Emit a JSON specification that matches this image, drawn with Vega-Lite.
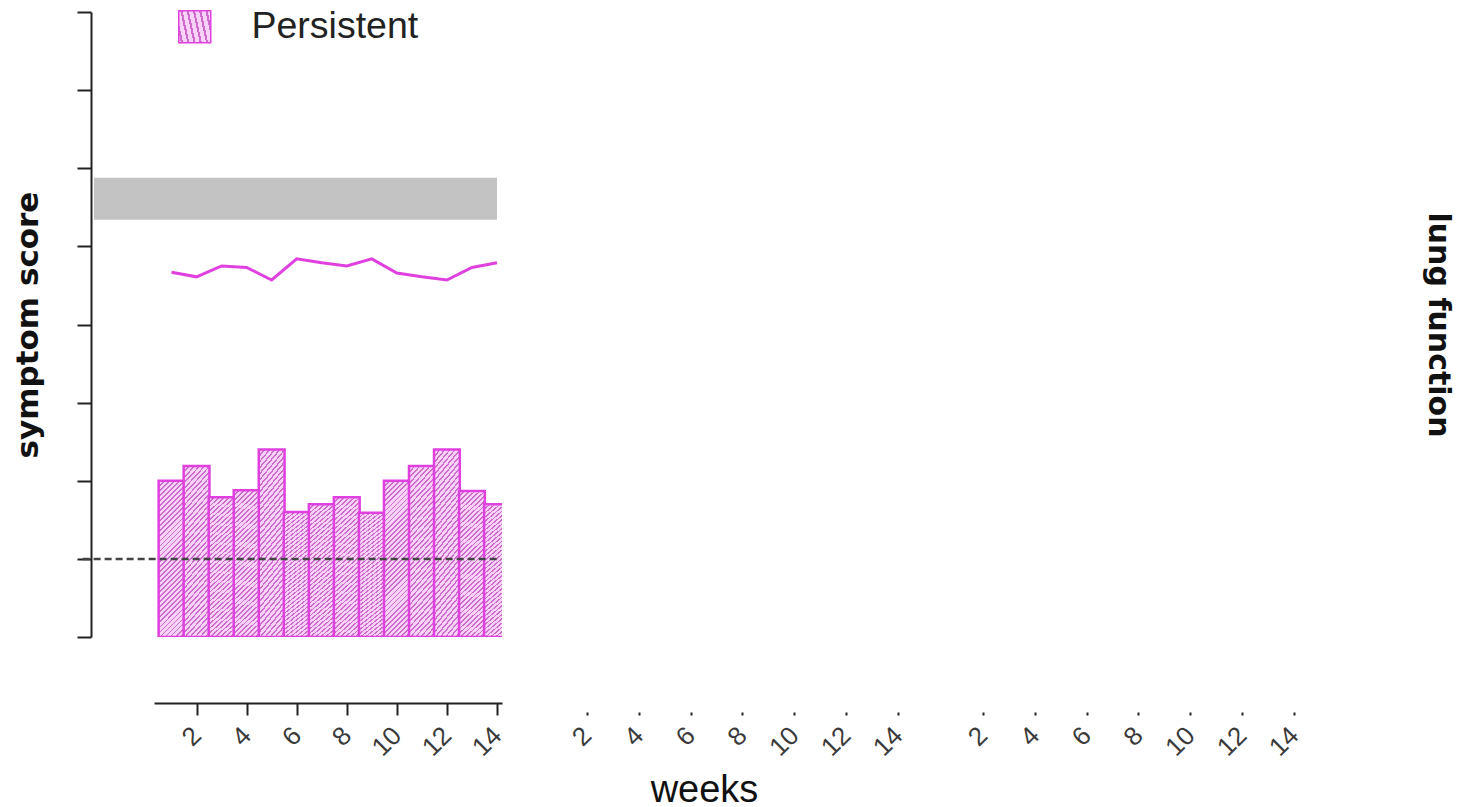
{
  "$schema": "https://vega.github.io/schema/vega-lite/v6.json",
  "padding": {"left": 12, "top": 8, "right": 20, "bottom": 0},
  "bounds": "flush",
  "spacing": 46,
  "background": "white",
  "config": {"view": {"stroke": null}, "axis": {"grid": false}},
  "datasets": {
    "weekly": [
      {"week": 1, "symptom": 1.0, "lung": 3.67},
      {"week": 2, "symptom": 1.19, "lung": 3.61},
      {"week": 3, "symptom": 0.79, "lung": 3.75},
      {"week": 4, "symptom": 0.88, "lung": 3.73},
      {"week": 5, "symptom": 1.4, "lung": 3.57},
      {"week": 6, "symptom": 0.6, "lung": 3.84},
      {"week": 7, "symptom": 0.7, "lung": 3.79},
      {"week": 8, "symptom": 0.79, "lung": 3.75},
      {"week": 9, "symptom": 0.59, "lung": 3.84},
      {"week": 10, "symptom": 1.0, "lung": 3.66},
      {"week": 11, "symptom": 1.19, "lung": 3.61},
      {"week": 12, "symptom": 1.4, "lung": 3.57},
      {"week": 13, "symptom": 0.87, "lung": 3.73},
      {"week": 14, "symptom": 0.7, "lung": 3.79}
    ],
    "band": [{"from": -2.1, "to": 14, "lo": 4.34, "hi": 4.88}],
    "baseline": [{"from": -2.55, "to": 14, "level": 0}]
  },
  "hconcat": [
    {
      "width": 348,
      "height": 625,
      "layer": [
        {
          "data": {"name": "band"},
          "mark": {"type": "rect", "color": "#c3c3c3"},
          "encoding": {
            "x": {"field": "from", "type": "quantitative", "scale": {"domain": [0.5, 14], "nice": false, "zero": false}},
            "x2": {"field": "to"},
            "y": {"field": "lo", "type": "quantitative", "scale": {"domain": [-1, 7], "nice": false, "zero": false}},
            "y2": {"field": "hi"}
          }
        },
        {
          "data": {"name": "weekly"},
          "mark": {
            "type": "bar",
            "width": 25.8,
            "clip": true,
            "strokeWidth": 2.5,
            "fill": {
              "gradient": "linear", "x1": 0, "y1": 0, "x2": 0.1875, "y2": 1.134,
              "stops": [
                {"offset": 0, "color": "#cf6acf"}, {"offset": 0.0097, "color": "#cf6acf"}, {"offset": 0.0097, "color": "#f8d2f8"}, {"offset": 0.0278, "color": "#f8d2f8"},
                {"offset": 0.0278, "color": "#cf6acf"}, {"offset": 0.0375, "color": "#cf6acf"}, {"offset": 0.0375, "color": "#f8d2f8"}, {"offset": 0.0556, "color": "#f8d2f8"},
                {"offset": 0.0556, "color": "#cf6acf"}, {"offset": 0.0653, "color": "#cf6acf"}, {"offset": 0.0653, "color": "#f8d2f8"}, {"offset": 0.0833, "color": "#f8d2f8"},
                {"offset": 0.0833, "color": "#cf6acf"}, {"offset": 0.0931, "color": "#cf6acf"}, {"offset": 0.0931, "color": "#f8d2f8"}, {"offset": 0.1111, "color": "#f8d2f8"},
                {"offset": 0.1111, "color": "#cf6acf"}, {"offset": 0.1208, "color": "#cf6acf"}, {"offset": 0.1208, "color": "#f8d2f8"}, {"offset": 0.1389, "color": "#f8d2f8"},
                {"offset": 0.1389, "color": "#cf6acf"}, {"offset": 0.1486, "color": "#cf6acf"}, {"offset": 0.1486, "color": "#f8d2f8"}, {"offset": 0.1667, "color": "#f8d2f8"},
                {"offset": 0.1667, "color": "#cf6acf"}, {"offset": 0.1764, "color": "#cf6acf"}, {"offset": 0.1764, "color": "#f8d2f8"}, {"offset": 0.1944, "color": "#f8d2f8"},
                {"offset": 0.1944, "color": "#cf6acf"}, {"offset": 0.2042, "color": "#cf6acf"}, {"offset": 0.2042, "color": "#f8d2f8"}, {"offset": 0.2222, "color": "#f8d2f8"},
                {"offset": 0.2222, "color": "#cf6acf"}, {"offset": 0.2319, "color": "#cf6acf"}, {"offset": 0.2319, "color": "#f8d2f8"}, {"offset": 0.25, "color": "#f8d2f8"},
                {"offset": 0.25, "color": "#cf6acf"}, {"offset": 0.2597, "color": "#cf6acf"}, {"offset": 0.2597, "color": "#f8d2f8"}, {"offset": 0.2778, "color": "#f8d2f8"},
                {"offset": 0.2778, "color": "#cf6acf"}, {"offset": 0.2875, "color": "#cf6acf"}, {"offset": 0.2875, "color": "#f8d2f8"}, {"offset": 0.3056, "color": "#f8d2f8"},
                {"offset": 0.3056, "color": "#cf6acf"}, {"offset": 0.3153, "color": "#cf6acf"}, {"offset": 0.3153, "color": "#f8d2f8"}, {"offset": 0.3333, "color": "#f8d2f8"},
                {"offset": 0.3333, "color": "#cf6acf"}, {"offset": 0.3431, "color": "#cf6acf"}, {"offset": 0.3431, "color": "#f8d2f8"}, {"offset": 0.3611, "color": "#f8d2f8"},
                {"offset": 0.3611, "color": "#cf6acf"}, {"offset": 0.3708, "color": "#cf6acf"}, {"offset": 0.3708, "color": "#f8d2f8"}, {"offset": 0.3889, "color": "#f8d2f8"},
                {"offset": 0.3889, "color": "#cf6acf"}, {"offset": 0.3986, "color": "#cf6acf"}, {"offset": 0.3986, "color": "#f8d2f8"}, {"offset": 0.4167, "color": "#f8d2f8"},
                {"offset": 0.4167, "color": "#cf6acf"}, {"offset": 0.4264, "color": "#cf6acf"}, {"offset": 0.4264, "color": "#f8d2f8"}, {"offset": 0.4444, "color": "#f8d2f8"},
                {"offset": 0.4444, "color": "#cf6acf"}, {"offset": 0.4542, "color": "#cf6acf"}, {"offset": 0.4542, "color": "#f8d2f8"}, {"offset": 0.4722, "color": "#f8d2f8"},
                {"offset": 0.4722, "color": "#cf6acf"}, {"offset": 0.4819, "color": "#cf6acf"}, {"offset": 0.4819, "color": "#f8d2f8"}, {"offset": 0.5, "color": "#f8d2f8"},
                {"offset": 0.5, "color": "#cf6acf"}, {"offset": 0.5097, "color": "#cf6acf"}, {"offset": 0.5097, "color": "#f8d2f8"}, {"offset": 0.5278, "color": "#f8d2f8"},
                {"offset": 0.5278, "color": "#cf6acf"}, {"offset": 0.5375, "color": "#cf6acf"}, {"offset": 0.5375, "color": "#f8d2f8"}, {"offset": 0.5556, "color": "#f8d2f8"},
                {"offset": 0.5556, "color": "#cf6acf"}, {"offset": 0.5653, "color": "#cf6acf"}, {"offset": 0.5653, "color": "#f8d2f8"}, {"offset": 0.5833, "color": "#f8d2f8"},
                {"offset": 0.5833, "color": "#cf6acf"}, {"offset": 0.5931, "color": "#cf6acf"}, {"offset": 0.5931, "color": "#f8d2f8"}, {"offset": 0.6111, "color": "#f8d2f8"},
                {"offset": 0.6111, "color": "#cf6acf"}, {"offset": 0.6208, "color": "#cf6acf"}, {"offset": 0.6208, "color": "#f8d2f8"}, {"offset": 0.6389, "color": "#f8d2f8"},
                {"offset": 0.6389, "color": "#cf6acf"}, {"offset": 0.6486, "color": "#cf6acf"}, {"offset": 0.6486, "color": "#f8d2f8"}, {"offset": 0.6667, "color": "#f8d2f8"},
                {"offset": 0.6667, "color": "#cf6acf"}, {"offset": 0.6764, "color": "#cf6acf"}, {"offset": 0.6764, "color": "#f8d2f8"}, {"offset": 0.6944, "color": "#f8d2f8"},
                {"offset": 0.6944, "color": "#cf6acf"}, {"offset": 0.7042, "color": "#cf6acf"}, {"offset": 0.7042, "color": "#f8d2f8"}, {"offset": 0.7222, "color": "#f8d2f8"},
                {"offset": 0.7222, "color": "#cf6acf"}, {"offset": 0.7319, "color": "#cf6acf"}, {"offset": 0.7319, "color": "#f8d2f8"}, {"offset": 0.75, "color": "#f8d2f8"},
                {"offset": 0.75, "color": "#cf6acf"}, {"offset": 0.7597, "color": "#cf6acf"}, {"offset": 0.7597, "color": "#f8d2f8"}, {"offset": 0.7778, "color": "#f8d2f8"},
                {"offset": 0.7778, "color": "#cf6acf"}, {"offset": 0.7875, "color": "#cf6acf"}, {"offset": 0.7875, "color": "#f8d2f8"}, {"offset": 0.8056, "color": "#f8d2f8"},
                {"offset": 0.8056, "color": "#cf6acf"}, {"offset": 0.8153, "color": "#cf6acf"}, {"offset": 0.8153, "color": "#f8d2f8"}, {"offset": 0.8333, "color": "#f8d2f8"},
                {"offset": 0.8333, "color": "#cf6acf"}, {"offset": 0.8431, "color": "#cf6acf"}, {"offset": 0.8431, "color": "#f8d2f8"}, {"offset": 0.8611, "color": "#f8d2f8"},
                {"offset": 0.8611, "color": "#cf6acf"}, {"offset": 0.8708, "color": "#cf6acf"}, {"offset": 0.8708, "color": "#f8d2f8"}, {"offset": 0.8889, "color": "#f8d2f8"},
                {"offset": 0.8889, "color": "#cf6acf"}, {"offset": 0.8986, "color": "#cf6acf"}, {"offset": 0.8986, "color": "#f8d2f8"}, {"offset": 0.9167, "color": "#f8d2f8"},
                {"offset": 0.9167, "color": "#cf6acf"}, {"offset": 0.9264, "color": "#cf6acf"}, {"offset": 0.9264, "color": "#f8d2f8"}, {"offset": 0.9444, "color": "#f8d2f8"},
                {"offset": 0.9444, "color": "#cf6acf"}, {"offset": 0.9542, "color": "#cf6acf"}, {"offset": 0.9542, "color": "#f8d2f8"}, {"offset": 0.9722, "color": "#f8d2f8"},
                {"offset": 0.9722, "color": "#cf6acf"}, {"offset": 0.9819, "color": "#cf6acf"}, {"offset": 0.9819, "color": "#f8d2f8"}, {"offset": 1, "color": "#f8d2f8"}
              ]
            }
          },
          "encoding": {
            "x": {
              "field": "week", "type": "quantitative",
              "scale": {"domain": [0.5, 14], "nice": false, "zero": false},
              "axis": {
                "values": [2, 4, 6, 8, 10, 12, 14],
                "title": null,
                "offset": 66,
                "domainColor": "#222", "domainWidth": 2,
                "tickColor": "#222", "tickWidth": 2, "tickSize": 12,
                "labelAngle": -45, "labelAlign": "right", "labelBaseline": "middle",
                "labelFont": "Liberation Sans", "labelFontSize": 26, "labelColor": "#3a3a3a",
                "labelPadding": 16
              }
            },
            "y": {
              "field": "symptom", "type": "quantitative",
              "scale": {"domain": [-1, 7], "nice": false, "zero": false},
              "axis": {
                "values": [-1, 0, 1, 2, 3, 4, 5, 6, 7],
                "labels": false,
                "offset": 63,
                "domainColor": "#222", "domainWidth": 2,
                "tickColor": "#222", "tickWidth": 2, "tickSize": 14,
                "title": "symptom score",
                "titleFont": "DejaVu Sans", "titleFontWeight": "bold", "titleFontSize": 31,
                "titleColor": "#111", "titlePadding": 32
              }
            },
            "y2": {"datum": -1},
            "stroke": {
              "datum": "Persistent",
              "scale": {"range": ["#e040e0"]},
              "legend": {
                "title": null,
                "orient": "none",
                "legendX": 22,
                "legendY": -4,
                "padding": 0,
                "symbolType": "square",
                "symbolSize": 1024,
                "symbolStrokeWidth": 1.5,
                "labelFont": "Liberation Sans",
                "labelFontSize": 37.5,
                "labelColor": "#222",
                "labelOffset": 38,
                "labelLimit": 600,
                "encode": {
                  "labels": {"update": {"dy": {"value": 8}}},
                  "symbols": {"update": {"fill": {"value": {
                    "gradient": "linear", "x1": 0, "y1": 0, "x2": 1, "y2": 1,
                    "stops": [
                      {"offset": 0, "color": "#cf6acf"}, {"offset": 0.0292, "color": "#cf6acf"}, {"offset": 0.0292, "color": "#f8d2f8"}, {"offset": 0.0833, "color": "#f8d2f8"},
                      {"offset": 0.0833, "color": "#cf6acf"}, {"offset": 0.1125, "color": "#cf6acf"}, {"offset": 0.1125, "color": "#f8d2f8"}, {"offset": 0.1667, "color": "#f8d2f8"},
                      {"offset": 0.1667, "color": "#cf6acf"}, {"offset": 0.1958, "color": "#cf6acf"}, {"offset": 0.1958, "color": "#f8d2f8"}, {"offset": 0.25, "color": "#f8d2f8"},
                      {"offset": 0.25, "color": "#cf6acf"}, {"offset": 0.2792, "color": "#cf6acf"}, {"offset": 0.2792, "color": "#f8d2f8"}, {"offset": 0.3333, "color": "#f8d2f8"},
                      {"offset": 0.3333, "color": "#cf6acf"}, {"offset": 0.3625, "color": "#cf6acf"}, {"offset": 0.3625, "color": "#f8d2f8"}, {"offset": 0.4167, "color": "#f8d2f8"},
                      {"offset": 0.4167, "color": "#cf6acf"}, {"offset": 0.4458, "color": "#cf6acf"}, {"offset": 0.4458, "color": "#f8d2f8"}, {"offset": 0.5, "color": "#f8d2f8"},
                      {"offset": 0.5, "color": "#cf6acf"}, {"offset": 0.5292, "color": "#cf6acf"}, {"offset": 0.5292, "color": "#f8d2f8"}, {"offset": 0.5833, "color": "#f8d2f8"},
                      {"offset": 0.5833, "color": "#cf6acf"}, {"offset": 0.6125, "color": "#cf6acf"}, {"offset": 0.6125, "color": "#f8d2f8"}, {"offset": 0.6667, "color": "#f8d2f8"},
                      {"offset": 0.6667, "color": "#cf6acf"}, {"offset": 0.6958, "color": "#cf6acf"}, {"offset": 0.6958, "color": "#f8d2f8"}, {"offset": 0.75, "color": "#f8d2f8"},
                      {"offset": 0.75, "color": "#cf6acf"}, {"offset": 0.7792, "color": "#cf6acf"}, {"offset": 0.7792, "color": "#f8d2f8"}, {"offset": 0.8333, "color": "#f8d2f8"},
                      {"offset": 0.8333, "color": "#cf6acf"}, {"offset": 0.8625, "color": "#cf6acf"}, {"offset": 0.8625, "color": "#f8d2f8"}, {"offset": 0.9167, "color": "#f8d2f8"},
                      {"offset": 0.9167, "color": "#cf6acf"}, {"offset": 0.9458, "color": "#cf6acf"}, {"offset": 0.9458, "color": "#f8d2f8"}, {"offset": 1, "color": "#f8d2f8"}
                    ]
                  }}}}
                }
              }
            }
          }
        },
        {
          "data": {"name": "baseline"},
          "mark": {"type": "rule", "color": "#444444", "strokeWidth": 2.5, "strokeDash": [7, 4]},
          "encoding": {
            "x": {"field": "from", "type": "quantitative"},
            "x2": {"field": "to"},
            "y": {"field": "level", "type": "quantitative"}
          }
        },
        {
          "data": {"name": "weekly"},
          "mark": {"type": "line", "color": "#e040e0", "strokeWidth": 3},
          "encoding": {
            "x": {"field": "week", "type": "quantitative"},
            "y": {"field": "lung", "type": "quantitative"}
          }
        }
      ]
    },
    {
      "width": 350,
      "height": 625,
      "data": {"name": "weekly"},
      "mark": {"type": "point", "opacity": 0},
      "encoding": {
        "x": {
          "field": "week", "type": "quantitative",
          "scale": {"domain": [0.5, 14], "nice": false, "zero": false},
          "axis": {
            "values": [2, 4, 6, 8, 10, 12, 14],
            "domain": false,
            "offset": 75,
            "tickColor": "#222", "tickWidth": 2, "tickSize": 3,
            "labelAngle": -45, "labelAlign": "right", "labelBaseline": "middle",
            "labelFont": "Liberation Sans", "labelFontSize": 26, "labelColor": "#3a3a3a",
            "labelPadding": 16,
            "title": "weeks",
            "titleFont": "Liberation Sans", "titleFontWeight": "normal", "titleFontSize": 38,
            "titleColor": "#111",
            "titleAlign": "center", "titleBaseline": "alphabetic",
            "titleX": 156, "titleY": 89
          }
        },
        "y": {
          "field": "symptom", "type": "quantitative",
          "scale": {"domain": [-1, 7], "nice": false, "zero": false},
          "axis": null
        }
      }
    },
    {
      "width": 350,
      "height": 625,
      "data": {"name": "weekly"},
      "mark": {"type": "point", "opacity": 0},
      "encoding": {
        "x": {
          "field": "week", "type": "quantitative",
          "scale": {"domain": [0.5, 14], "nice": false, "zero": false},
          "axis": {
            "values": [2, 4, 6, 8, 10, 12, 14],
            "domain": false,
            "offset": 75,
            "tickColor": "#222", "tickWidth": 2, "tickSize": 3,
            "labelAngle": -45, "labelAlign": "right", "labelBaseline": "middle",
            "labelFont": "Liberation Sans", "labelFontSize": 26, "labelColor": "#3a3a3a",
            "labelPadding": 16,
            "title": null
          }
        },
        "y": {
          "field": "symptom", "type": "quantitative",
          "scale": {"domain": [-1, 7], "nice": false, "zero": false},
          "axis": {
            "orient": "right",
            "domain": false, "ticks": false, "labels": false,
            "title": "lung function",
            "titleFont": "DejaVu Sans", "titleFontWeight": "bold", "titleFontSize": 30,
            "titleColor": "#111", "titleAngle": 90, "titlePadding": 128
          }
        }
      }
    }
  ]
}
